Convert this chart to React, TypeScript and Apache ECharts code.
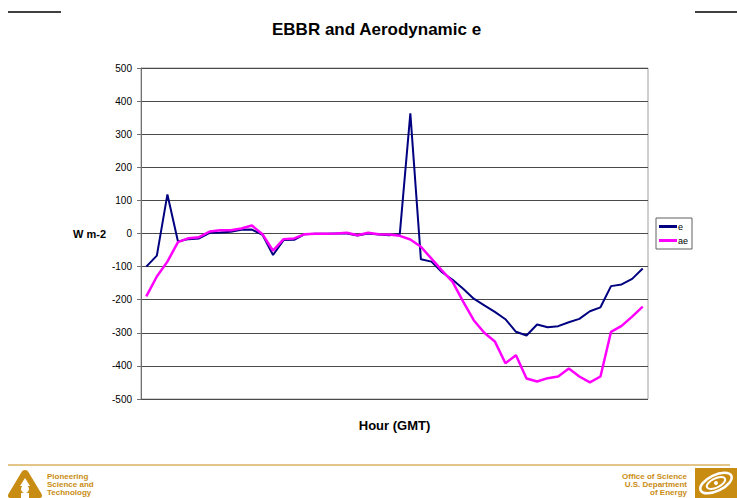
import React, { useEffect, useRef } from "react";
import * as echarts from "echarts";

const hours: string[] = [
  "0:00","0:30","1:00","1:30","2:00","2:30","3:00","3:30","4:00","4:30","5:00","5:30",
  "6:00","6:30","7:00","7:30","8:00","8:30","9:00","9:30","10:00","10:30","11:00","11:30",
  "12:00","12:30","13:00","13:30","14:00","14:30","15:00","15:30","16:00","16:30","17:00","17:30",
  "18:00","18:30","19:00","19:30","20:00","20:30","21:00","21:30","22:00","22:30","23:00","23:30",
];

const eValues: number[] = [
  -100, -67, 118, -24, -17, -15, 2, 3, 5, 11, 12, -4,
  -65, -20, -19, -2, -1, -1, 0, 0, -6, 0, -3, -5,
  -2, 363, -78, -85, -117, -140, -167, -197, -217, -237, -259, -297,
  -308, -275, -283, -280, -268, -258, -235, -223, -159, -154, -137, -106,
];

const aeValues: number[] = [
  -190, -130, -85, -26, -14, -11, 6, 10, 10, 15, 24, -2,
  -52, -17, -15, -2, -1, -1, 0, 2, -5, 2, -2, -3,
  -7, -18, -40, -76, -112, -146, -206, -262, -300, -326, -392, -368,
  -438, -447, -437, -432, -408, -432, -450, -432, -297, -279, -251, -221,
];

const yTicks = { min: -500, max: 500, interval: 100 };

const leftFooter: string[] = ["Pioneering", "Science and", "Technology"];
const rightFooter: string[] = ["Office of Science", "U.S. Department", "of Energy"];

const ORANGE = "#C98C12";
const FONT = 'Arial, "Liberation Sans", sans-serif';

const argonnePath =
  "M17 0 C19 0 20 1 21 3 L33 23 C35 26 34 28 31 28 L3 28 C0 28 -1 26 1 23 L13 3 C14 1 15 0 17 0 Z";
echarts.graphic.registerShape("argonne", echarts.graphic.extendPath(argonnePath, {}));

export default function App() {
  const ref = useRef<HTMLDivElement>(null);
  useEffect(() => {
    if (!ref.current) return;
    const chart = echarts.init(ref.current, null, { renderer: "svg" });
    const footerTexts: any[] = [];
    leftFooter.forEach((t, i) => {
      footerTexts.push({
        type: "text",
        x: 47,
        y: 476 + i * 8.2,
        style: { text: t, fontFamily: FONT, fontSize: 8, fontWeight: "bold", fill: ORANGE, textVerticalAlign: "middle" },
      });
    });
    rightFooter.forEach((t, i) => {
      footerTexts.push({
        type: "text",
        x: 687,
        y: 476 + i * 8.2,
        style: { text: t, fontFamily: FONT, fontSize: 8, fontWeight: "bold", fill: ORANGE, textAlign: "right", textVerticalAlign: "middle" },
      });
    });
    chart.setOption({
      animation: false,
      backgroundColor: "#ffffff",
      title: {
        text: "EBBR and Aerodynamic e",
        left: 272,
        top: 21,
        padding: 0,
        textStyle: { fontFamily: FONT, fontSize: 17, fontWeight: "bold", color: "#000" },
      },
      legend: {
        orient: "vertical",
        left: 656,
        top: 218,
        padding: [4, 4, 4, 3],
        itemGap: 5,
        itemWidth: 18,
        itemHeight: 3,
        icon: "rect",
        borderColor: "#606060",
        borderWidth: 1,
        textStyle: { fontFamily: FONT, fontSize: 9, color: "#000", padding: [0, 0, 0, -4] },
        data: ["e", "ae"],
      },
      grid: {
        left: 141,
        top: 68,
        width: 507,
        height: 331,
        show: true,
        borderColor: "#a0a0a0",
        borderWidth: 1,
      },
      xAxis: {
        type: "category",
        data: hours,
        boundaryGap: true,
        name: "Hour (GMT)",
        nameLocation: "middle",
        nameGap: 20,
        nameTextStyle: { fontFamily: FONT, fontSize: 13, fontWeight: "bold", color: "#000" },
        axisLine: { show: false },
        axisTick: { show: false },
        axisLabel: { show: false },
        splitLine: { show: false },
      },
      yAxis: {
        type: "value",
        min: yTicks.min,
        max: yTicks.max,
        interval: yTicks.interval,
        axisLine: { show: true, lineStyle: { color: "#707070", width: 1 } },
        axisTick: { show: true, inside: false, length: 4, lineStyle: { color: "#707070" } },
        axisLabel: { fontFamily: FONT, fontSize: 10, color: "#000", margin: 9 },
        splitLine: { show: true, lineStyle: { color: "#4a4a4a", width: 1 } },
      },
      graphic: [
        { type: "line", shape: { x1: 8, y1: 12, x2: 61, y2: 12 }, style: { stroke: "#000", lineWidth: 1.5 } },
        { type: "line", shape: { x1: 695, y1: 12, x2: 737, y2: 12 }, style: { stroke: "#000", lineWidth: 1.5 } },
        {
          type: "text",
          x: 106,
          y: 234,
          style: { text: "W m-2", fontFamily: FONT, fontSize: 11, fontWeight: "bold", fill: "#000", textAlign: "right", textVerticalAlign: "middle" },
        },
        { type: "line", shape: { x1: 8, y1: 465, x2: 730, y2: 465 }, style: { stroke: ORANGE, lineWidth: 1 } },
        { type: "argonne", x: 8, y: 470, style: { fill: ORANGE } },
        { type: "polygon", shape: { points: [[25, 478], [20, 486], [30, 486]] }, style: { fill: "#fff" } },
        { type: "circle", shape: { cx: 25, cy: 489, r: 4 }, style: { fill: "#fff" } },
        { type: "rect", shape: { x: 21, y: 493, width: 8, height: 5 }, style: { fill: "#fff" } },
        ...footerTexts,
        { type: "rect", shape: { x: 695, y: 468, width: 42, height: 30 }, style: { fill: ORANGE } },
        { type: "ellipse", x: 716, y: 483, rotation: 0.45, shape: { cx: 0, cy: 0, rx: 17, ry: 8 }, style: { fill: "none", stroke: "#fff", lineWidth: 2.5 } },
        { type: "ellipse", x: 716, y: 483, rotation: 0.45, shape: { cx: 0, cy: 0, rx: 10, ry: 4.5 }, style: { fill: "none", stroke: "#fff", lineWidth: 2 } },
        { type: "circle", shape: { cx: 716, cy: 483, r: 2 }, style: { fill: "#fff" } },
      ],
      series: [
        {
          name: "e",
          type: "line",
          data: eValues,
          symbol: "none",
          lineStyle: { color: "#000080", width: 2 },
          itemStyle: { color: "#000080" },
        },
        {
          name: "ae",
          type: "line",
          data: aeValues,
          symbol: "none",
          lineStyle: { color: "#FF00FF", width: 2.5 },
          itemStyle: { color: "#FF00FF" },
        },
      ],
    });
    return () => chart.dispose();
  }, []);
  return <div ref={ref} style={{ position: "fixed", left: 0, top: 0, width: 737, height: 498 }} />;
}
